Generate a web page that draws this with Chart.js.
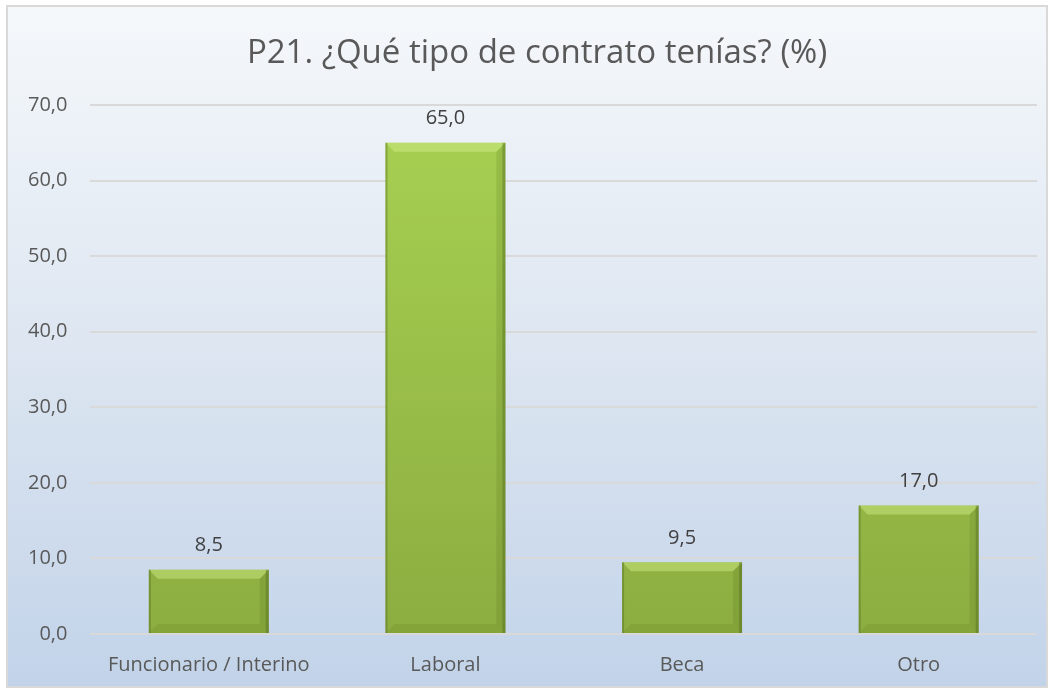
<!DOCTYPE html>
<html>
<head>
<meta charset="utf-8">
<script src="https://cdn.jsdelivr.net/npm/chart.js@4/dist/chart.umd.min.js"></script>
<style>
  html, body { margin: 0; padding: 0; background: #ffffff; }
  #wrap { width: 1053px; height: 693px; position: relative; }
</style>
</head>
<body>
<div id="wrap"><canvas id="chart"></canvas></div>
<script>
  // ---------- data ----------
  const categories = ["Funcionario / Interino", "Laboral", "Beca", "Otro"];
  const values = [8.5, 65.0, 9.5, 17.0];
  const yTicks = [0, 10, 20, 30, 40, 50, 60, 70];
  const titleText = "P21. ¿Qué tipo de contrato tenías? (%)";

  const FONT = "'Open Sans', 'DejaVu Sans', sans-serif";
  const TEXT = "#595959";

  function fmt(v) {
    return v.toFixed(1).replace(".", ",");
  }

  // background panel with soft blue gradient and grey frame, plus the title
  const panelBg = {
    id: "panelBg",
    beforeDraw(chart) {
      const ctx = chart.ctx;
      const x0 = 7, y0 = 6, x1 = chart.width - 6, y1 = chart.height - 6;
      const g = ctx.createLinearGradient(0, y0, 0, y1);
      g.addColorStop(0, "#f5f8fb");
      g.addColorStop(0.5, "#dde6f1");
      g.addColorStop(1, "#c2d3e9");
      ctx.save();
      ctx.fillStyle = g;
      ctx.fillRect(x0, y0, x1 - x0, y1 - y0);
      ctx.strokeStyle = "#d9d9d9";
      ctx.lineWidth = 2;
      ctx.strokeRect(x0, y0, x1 - x0, y1 - y0);
      // title sits slightly right of centre, like the original
      ctx.fillStyle = TEXT;
      ctx.font = "33px " + FONT;
      ctx.textAlign = "center";
      ctx.textBaseline = "middle";
      ctx.fillText(titleText, 537, 54);
      ctx.restore();
    },
  };

  // soft bevel on each bar + value labels above
  const barExtras = {
    id: "barExtras",
    afterDatasetsDraw(chart) {
      const ctx = chart.ctx;
      const meta = chart.getDatasetMeta(0);
      ctx.save();
      meta.data.forEach(function (bar, i) {
        const p = bar.getProps(["x", "y", "base", "width"], true);
        const l = p.x - p.width / 2, r = p.x + p.width / 2;
        const t = p.y, b = p.base;
        const e = 9;
        // top bevel (light)
        ctx.fillStyle = "rgba(210,240,140,0.45)";
        ctx.beginPath();
        ctx.moveTo(l, t); ctx.lineTo(r, t); ctx.lineTo(r - e, t + e); ctx.lineTo(l + e, t + e);
        ctx.closePath(); ctx.fill();
        // right bevel (dark)
        ctx.fillStyle = "rgba(70,95,20,0.15)";
        ctx.beginPath();
        ctx.moveTo(r, t); ctx.lineTo(r - e, t + e); ctx.lineTo(r - e, b - e); ctx.lineTo(r, b);
        ctx.closePath(); ctx.fill();
        // bottom bevel (dark)
        ctx.fillStyle = "rgba(70,95,20,0.12)";
        ctx.beginPath();
        ctx.moveTo(l, b); ctx.lineTo(l + e, b - e); ctx.lineTo(r - e, b - e); ctx.lineTo(r, b);
        ctx.closePath(); ctx.fill();
        // thin dark edge on left and right
        ctx.fillStyle = "rgba(80,105,30,0.4)";
        ctx.fillRect(l, t, 2, b - t);
        ctx.fillRect(r - 3, t, 3, b - t);
        // value label
        ctx.fillStyle = "#404040";
        ctx.font = "20px " + FONT;
        ctx.textAlign = "center";
        ctx.textBaseline = "bottom";
        ctx.fillText(fmt(values[i]), p.x, t - 14);
      });
      ctx.restore();
    },
  };

  const canvas = document.getElementById("chart");
  new Chart(canvas, {
    type: "bar",
    data: {
      labels: categories,
      datasets: [
        {
          data: values,
          backgroundColor: function (c) {
            const area = c.chart.chartArea;
            if (!area) return "#9bc34a";
            const g = c.chart.ctx.createLinearGradient(0, area.top, 0, area.bottom);
            g.addColorStop(0, "#a8d152");
            g.addColorStop(1, "#8cad40");
            return g;
          },
          borderWidth: 0,
          barPercentage: 0.507,
          categoryPercentage: 1.0,
        },
      ],
    },
    options: {
      responsive: true,
      maintainAspectRatio: false,
      animation: false,
      layout: { padding: { left: 5, right: 16, top: 105, bottom: -3 } },
      plugins: {
        legend: { display: false },
        tooltip: { enabled: false },
        title: { display: false },
      },
      scales: {
        x: {
          grid: { display: false, drawTicks: false },
          border: { display: false },
          ticks: {
            color: TEXT,
            padding: 19,
            font: { family: FONT, size: 20 },
          },
        },
        y: {
          min: 0,
          max: 70,
          afterBuildTicks: function (axis) {
            axis.ticks = yTicks.map(function (v) { return { value: v }; });
          },
          grid: { color: "#d9d9d9", lineWidth: 2, drawTicks: false },
          border: { display: false },
          ticks: {
            color: TEXT,
            padding: 23,
            font: { family: FONT, size: 20 },
            callback: function (v) { return fmt(v); },
          },
        },
      },
    },
    plugins: [panelBg, barExtras],
  });
</script>
</body>
</html>
